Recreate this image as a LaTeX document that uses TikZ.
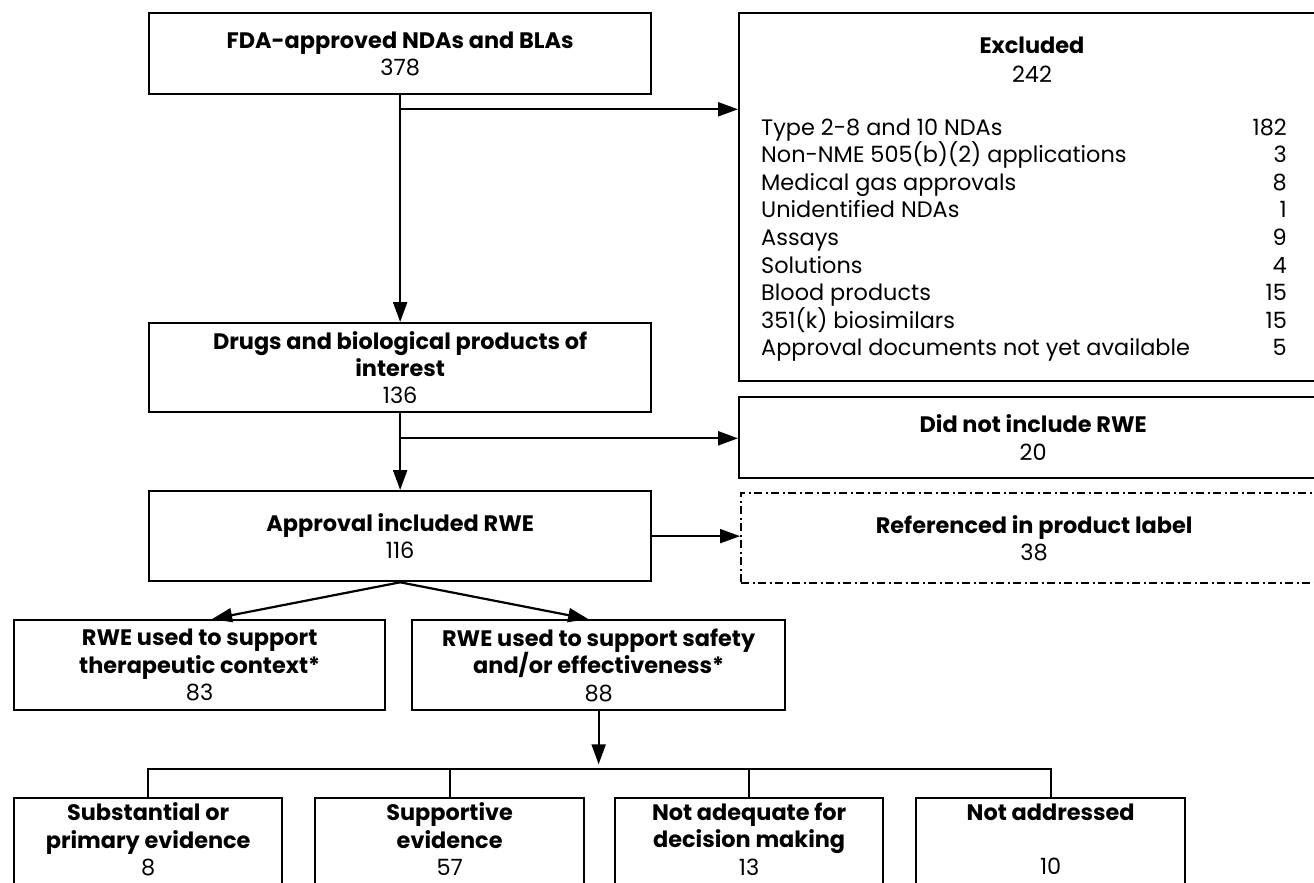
\documentclass[tikz,border=0pt]{standalone}
\usepackage{fontspec}
\setmainfont{Poppins}
\usetikzlibrary{arrows.meta,calc}
\begin{document}
\begin{tikzpicture}[x=1pt,y=-1pt,
  every node/.style={font=\fontsize{22.4}{27.3}\selectfont},
  box/.style={draw, line width=2.3pt, rectangle, inner sep=0pt, align=center, anchor=north west},
  lowbox/.style={box, minimum height=88pt, text depth=6pt},
  arr/.style={line width=2.2pt, -{Triangle[length=20pt,width=14pt]}},
  ln/.style={line width=2.2pt},
  dd/.style={dash pattern=on 8pt off 3.5pt on 2pt off 3.5pt},
  item/.style={anchor=base west, inner sep=0pt},
  num/.style={anchor=base east, inner sep=0pt}
]
\useasboundingbox (0,0) rectangle (1314,883);
\clip (0,0) rectangle (1314,883);

% left column
\node[box, minimum width=502pt, minimum height=81pt] (fda) at (148,12) {\textbf{FDA-approved NDAs and BLAs}\\378};
\node[box, minimum width=502pt, minimum height=89pt] (drugs) at (148,322) {\textbf{Drugs and biological products of}\\\textbf{interest}\\136};
\node[box, minimum width=502pt, minimum height=90pt] (appr) at (148,490) {\textbf{Approval included RWE}\\116};
\node[box, minimum width=371pt, minimum height=90pt] (ctx) at (13,619) {\textbf{RWE used to support}\\\textbf{therapeutic context*}\\83};
\node[box, minimum width=373pt, minimum height=90pt] (safe) at (411,619) {\textbf{RWE used to support safety}\\\textbf{and/or effectiveness*}\\88};

% right column
\node[box, minimum width=588pt, minimum height=368pt] (excl) at (738,12) {};
\node[anchor=base, inner sep=0pt] (exclT) at (1032,54) {\textbf{Excluded}};
\node[anchor=base, inner sep=0pt] (exclN) at (1032,82) {242};
\node[item] (i1) at (761,135) {Type 2-8 and 10 NDAs};
\node[num]  (n1) at (1287,135) {182};
\node[item] (i2) at (761,162.6) {Non-NME 505(b)(2) applications};
\node[num]  (n2) at (1287,162.6) {3};
\node[item] (i3) at (761,190.2) {Medical gas approvals};
\node[num]  (n3) at (1287,190.2) {8};
\node[item] (i4) at (761,217.8) {Unidentified NDAs};
\node[num]  (n4) at (1287,217.8) {1};
\node[item] (i5) at (761,245.4) {Assays};
\node[num]  (n5) at (1287,245.4) {9};
\node[item] (i6) at (761,273) {Solutions};
\node[num]  (n6) at (1287,273) {4};
\node[item] (i7) at (761,300.6) {Blood products};
\node[num]  (n7) at (1287,300.6) {15};
\node[item] (i8) at (761,328.2) {351(k) biosimilars};
\node[num]  (n8) at (1287,328.2) {15};
\node[item] (i9) at (761,355.8) {Approval documents not yet available};
\node[num]  (n9) at (1287,355.8) {5};

\node[box, minimum width=588pt, minimum height=81pt] (did) at (738,396) {\textbf{Did not include RWE}\\20};
\node[box, dd, minimum width=586pt, minimum height=90pt] (ref) at (740,492) {\textbf{Referenced in product label}\\38};

% bottom row
\node[lowbox, minimum width=268pt] (s1) at (13,797) {\textbf{Substantial or}\\\textbf{primary evidence}\\8};
\node[lowbox, minimum width=269pt] (s2) at (314,797) {\textbf{Supportive}\\\textbf{evidence}\\57};
\node[lowbox, minimum width=268pt] (s3) at (614,797) {\textbf{Not adequate for}\\\textbf{decision making}\\13};
\node[lowbox, minimum width=269pt] (s4) at (915,797) {\textbf{Not addressed}\\[27.3pt]10};

% connectors
\coordinate (j1) at ($(fda.south)+(0,14)$);
\coordinate (j2) at ($(drugs.south)+(0,25)$);
\draw[arr] (fda.south) -- (drugs.north);
\draw[arr] (j1) -- (j1 -| excl.west);
\draw[arr] (drugs.south) -- (appr.north);
\draw[arr] (j2) -- (j2 -| did.west);
\draw[arr] (appr.east) -- (appr.east -| ref.west);
\draw[arr] (appr.south) -- ($(ctx.north)+(12.5,0)$);
\draw[arr] (appr.south) -- ($(safe.north)+(-10.5,0)$);
\coordinate (tip) at ($(safe.south)+(0,53)$);
\draw[arr] (safe.south) -- (tip);
\coordinate (barR) at (1052,769);
\draw[ln] (s1.north) -- (s1.north |- barR) -- (barR);
\draw[ln] (s2.north |- barR) -- (s2.north);
\draw[ln] (s3.north |- barR) -- (s3.north);
\draw[ln] (s4.north |- barR) -- (s4.north);
\end{tikzpicture}
\end{document}
